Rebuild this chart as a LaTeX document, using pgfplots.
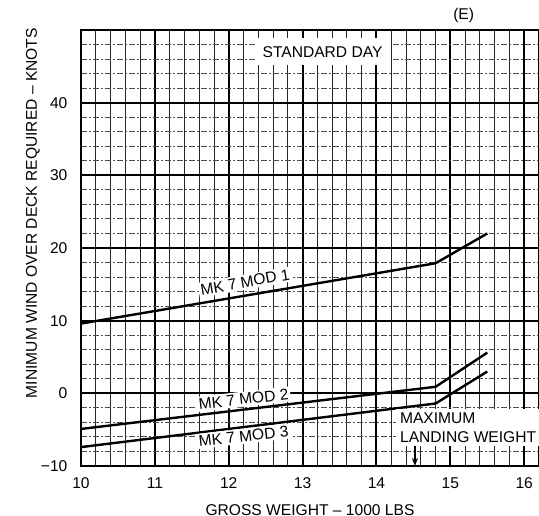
\documentclass[border=0pt]{standalone}
\usepackage{fontspec}
\setmainfont{Liberation Sans}
\usepackage{pgfplots}
\pgfplotsset{compat=1.18}
\usetikzlibrary{arrows.meta, calc}

\begin{document}
\begin{tikzpicture}
\fontsize{7.8}{9.4}\selectfont
\begin{axis}[
    name=ax,
    width=229pt, height=218pt, scale only axis,
    xmin=10, xmax=16.2, ymin=-10, ymax=50,
    xtick={10,...,16}, ytick={-10,0,...,50},
    yticklabels={−10,0,10,20,30,40,{}},
    minor xtick={10.2,10.4,10.6,10.8,11.2,11.4,11.6,11.8,12.2,12.4,12.6,12.8,
                 13.2,13.4,13.6,13.8,14.2,14.4,14.6,14.8,15.2,15.4,15.6,15.8,16.2},
    minor ytick={-8,-6,-4,-2,2,4,6,8,12,14,16,18,22,24,26,28,32,34,36,38,42,44,46,48},
    grid=both,
    major grid style={black, line width=1pt},
    minor x grid style={black!85, line width=0.45pt, solid},
    minor y grid style={black!70, line width=0.45pt, dash pattern=on 3pt off 1pt on 1pt off 1pt},
    tick style={draw=none},
    axis line style={line width=1.2pt},
    /pgf/number format/assume math mode=true,
    xticklabel style={yshift=-3pt},
    yticklabel style={xshift=-4pt},
    xlabel={GROSS WEIGHT – 1000 LBS},
    ylabel={MINIMUM WIND OVER DECK REQUIRED – KNOTS},
    xlabel style={at={(axis description cs:0.5,0)}, anchor=center, yshift=-22pt},
    ylabel style={at={(axis description cs:-0.105,0.58)}, anchor=center},
    clip=false,
]
  % MK 7 MOD 1
  \addplot[black, line width=1.2pt] coordinates {(10,9.6) (14.8,17.9) (15.5,22.0)};
  % MK 7 MOD 2
  \addplot[black, line width=1.2pt] coordinates {(10,-4.9) (14.8,0.9) (15.5,5.6)};
  % MK 7 MOD 3
  \addplot[black, line width=1.2pt] coordinates {(10,-7.4) (14.8,-1.4) (15.5,3.0)};

  \node[fill=white, inner sep=4pt] at (axis cs:13.27,47) {STANDARD DAY};
  \node[fill=white, inner sep=1pt, rotate=10] at (axis cs:12.22,15.3) {MK 7 MOD 1};
  \node[fill=white, inner sep=1pt, rotate=6.5] at (axis cs:12.2,-0.8) {MK 7 MOD 2};
  \node[fill=white, inner sep=1pt, rotate=6.5] at (axis cs:12.2,-5.9) {MK 7 MOD 3};
  \node[fill=white, inner sep=2pt, align=left, anchor=west] at (axis cs:14.26,-4.7) {MAXIMUM\\LANDING WEIGHT};
  \draw[-{Stealth[length=4pt,width=3pt]}, line width=0.8pt] (axis cs:14.52,-7.3) -- (axis cs:14.52,-10);
  \node at (axis cs:15.18,52) {(E)};
\end{axis}
\pgfresetboundingbox
\path[use as bounding box] ($(ax.south west)+(-40.5pt,-25pt)$) rectangle ($(ax.north east)+(0pt,15pt)$);
\end{tikzpicture}
\end{document}
